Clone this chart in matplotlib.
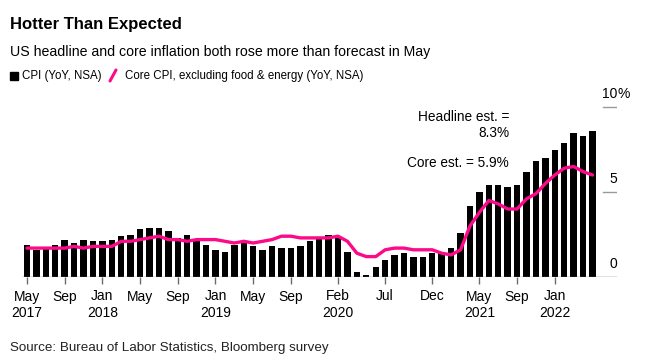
import matplotlib
matplotlib.use("Agg")
import matplotlib.pyplot as plt
import numpy as np

plt.rcParams['font.family'] = ['Liberation Sans', 'DejaVu Sans']

# Monthly data, May 2017 .. May 2022
months = ["May 2017", "Jun 2017", "Jul 2017", "Aug 2017", "Sep 2017", "Oct 2017", "Nov 2017", "Dec 2017",
          "Jan 2018", "Feb 2018", "Mar 2018", "Apr 2018", "May 2018", "Jun 2018", "Jul 2018", "Aug 2018",
          "Sep 2018", "Oct 2018", "Nov 2018", "Dec 2018",
          "Jan 2019", "Feb 2019", "Mar 2019", "Apr 2019", "May 2019", "Jun 2019", "Jul 2019", "Aug 2019",
          "Sep 2019", "Oct 2019", "Nov 2019", "Dec 2019",
          "Jan 2020", "Feb 2020", "Mar 2020", "Apr 2020", "May 2020", "Jun 2020", "Jul 2020", "Aug 2020",
          "Sep 2020", "Oct 2020", "Nov 2020", "Dec 2020",
          "Jan 2021", "Feb 2021", "Mar 2021", "Apr 2021", "May 2021", "Jun 2021", "Jul 2021", "Aug 2021",
          "Sep 2021", "Oct 2021", "Nov 2021", "Dec 2021",
          "Jan 2022", "Feb 2022", "Mar 2022", "Apr 2022", "May 2022"]

cpi = [1.9, 1.6, 1.7, 1.9, 2.2, 2.0, 2.2, 2.1,
       2.1, 2.2, 2.4, 2.5, 2.8, 2.9, 2.9, 2.7, 2.3, 2.5, 2.2, 1.9,
       1.6, 1.5, 1.9, 2.0, 1.8, 1.6, 1.8, 1.7, 1.7, 1.8, 2.1, 2.3,
       2.5, 2.3, 1.5, 0.3, 0.1, 0.6, 1.0, 1.3, 1.4, 1.2, 1.2, 1.4,
       1.4, 1.7, 2.6, 4.2, 5.0, 5.4, 5.4, 5.3, 5.4, 6.2, 6.8, 7.0,
       7.5, 7.9, 8.5, 8.3, 8.6]

core = [1.7, 1.7, 1.7, 1.7, 1.7, 1.8, 1.7, 1.8,
        1.8, 1.8, 2.1, 2.1, 2.2, 2.3, 2.4, 2.2, 2.2, 2.1, 2.2, 2.2,
        2.2, 2.1, 2.0, 2.1, 2.0, 2.1, 2.2, 2.4, 2.4, 2.3, 2.3, 2.3,
        2.3, 2.4, 2.1, 1.4, 1.2, 1.2, 1.6, 1.7, 1.7, 1.6, 1.6, 1.6,
        1.4, 1.3, 1.6, 3.0, 3.8, 4.5, 4.3, 4.0, 4.0, 4.6, 4.9, 5.5,
        6.0, 6.4, 6.5, 6.2, 6.0]

tick_months = ["May 2017", "Sep 2017", "Jan 2018", "May 2018", "Sep 2018", "Jan 2019", "May 2019",
               "Sep 2019", "Feb 2020", "Jul 2020", "Dec 2020", "May 2021", "Sep 2021", "Jan 2022"]
tick_labels = ["May\n2017", "Sep", "Jan\n2018", "May", "Sep", "Jan\n2019", "May", "Sep",
               "Feb\n2020", "Jul", "Dec", "May\n2021", "Sep", "Jan\n2022"]

y_ticks = [0, 5, 10]
y_labels = ["0", "5", "10"]

PINK = '#fc0a8a'
W, H = 648, 363

fig = plt.figure(figsize=(W / 100, H / 100), dpi=100)

def fx(px):
    return px / W

def fy(py):
    return 1 - py / H

ax_left, ax_right, ax_bottom, ax_top = 22, 617, 277, 98.5
ax = fig.add_axes([fx(ax_left), fy(ax_bottom), (ax_right - ax_left) / W, (ax_bottom - ax_top) / H])

x = np.arange(len(months))
ax.bar(x, cpi, width=0.68, color='black', zorder=2)
ax.plot(x, core, color=PINK, lw=2.4, solid_joinstyle='round', solid_capstyle='round', zorder=3)

ax.set_xlim(-0.53, 62.6)
ax.set_ylim(0, 10.5)
for s in ax.spines.values():
    s.set_visible(False)
ax.axhline(0, color='#6b6b6b', lw=1.0, zorder=4)
for yv in y_ticks[1:]:
    ax.axhline(yv, xmin=(603 - ax_left) / (ax_right - ax_left), xmax=1, color='#9a9a9a', lw=1.0)

ax.set_yticks([])
pos = [months.index(m) for m in tick_months]
ax.set_xticks(pos)
ax.set_xticklabels(tick_labels, fontsize=10, linespacing=1.25)
ax.tick_params(axis='x', length=5, width=1, color='#6b6b6b', pad=4)

# y labels (right side)
ppu = (ax_bottom - ax_top) / 10.5
for yv, lab in zip(y_ticks, y_labels):
    ypix = ax_bottom - yv * ppu - 13
    fig.text(fx(617), fy(ypix), lab, ha='right', va='center', fontsize=10)
fig.text(fx(617), fy(ax_bottom - 10 * ppu - 13), "%", ha='left', va='center', fontsize=10)

# Title, subtitle
fig.text(fx(10), fy(25), "Hotter Than Expected", fontsize=12, fontweight='bold', ha='left', va='center')
fig.text(fx(10), fy(52), "US headline and core inflation both rose more than forecast in May",
         fontsize=10.2, ha='left', va='center')

# Legend
fig.patches.append(plt.Rectangle((fx(10), fy(80)), 8 / W, 8 / H, transform=fig.transFigure,
                                 color='black', figure=fig))
fig.text(fx(22), fy(76), "CPI (YoY, NSA)", fontsize=8.3, ha='left', va='center')
fig.lines.append(plt.Line2D([fx(110), fx(116)], [fy(81), fy(70)], transform=fig.transFigure,
                            color=PINK, lw=2.2, solid_capstyle='round', figure=fig))
fig.text(fx(125), fy(76), "Core CPI, excluding food & energy (YoY, NSA)", fontsize=8.3, ha='left', va='center')

# Annotations
fig.text(fx(509), fy(117), "Headline est. =", fontsize=9.8, ha='right', va='center')
fig.text(fx(509), fy(133), "8.3%", fontsize=9.8, ha='right', va='center')
fig.text(fx(509), fy(163), "Core est. = 5.9%", fontsize=9.8, ha='right', va='center')

# Source
fig.text(fx(10), fy(348), "Source: Bureau of Labor Statistics, Bloomberg survey", fontsize=9.6, ha='left',
         va='center', color='#222222')

fig.savefig("out.png", dpi=100)
